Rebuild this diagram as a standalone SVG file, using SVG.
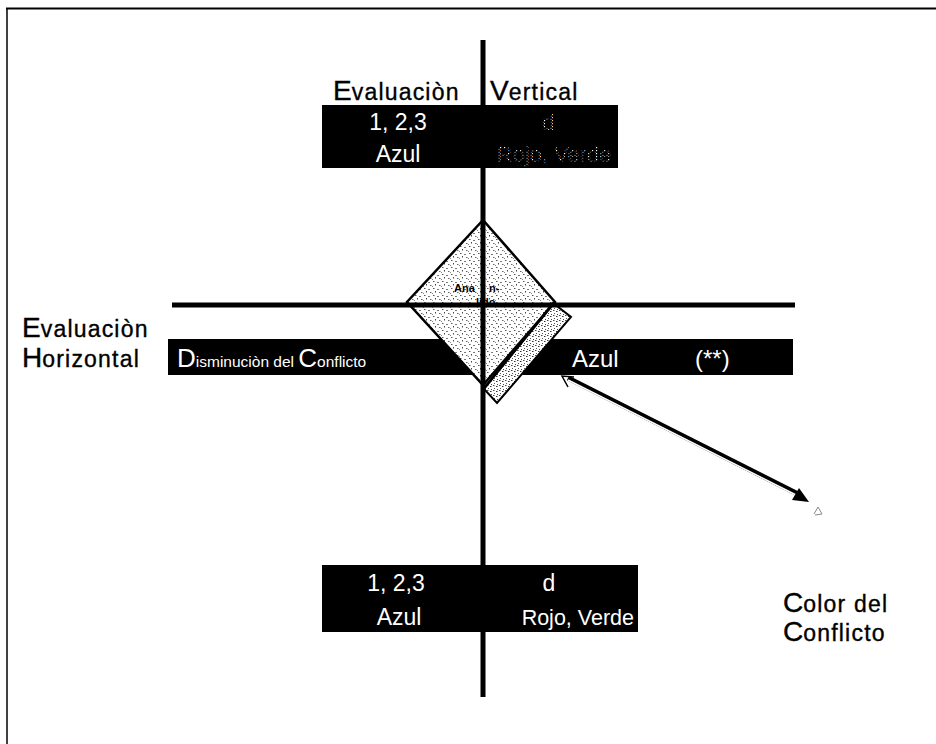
<svg xmlns="http://www.w3.org/2000/svg" width="936" height="744" viewBox="0 0 936 744">
<defs>
<pattern id="stip" width="9" height="7" patternUnits="userSpaceOnUse">
<rect width="9" height="7" fill="#fff"/>
<rect x="1" y="1" width="1.5" height="1" fill="#555"/>
<rect x="5" y="2" width="2" height="1" fill="#777"/>
<rect x="3" y="4" width="1" height="1.5" fill="#444"/>
<rect x="7" y="5" width="1.5" height="1" fill="#666"/>
<rect x="0" y="6" width="1" height="1" fill="#888"/>
</pattern>
<pattern id="stip2" width="6" height="5" patternUnits="userSpaceOnUse">
<rect width="6" height="5" fill="#fff"/>
<rect x="1" y="0" width="1.5" height="1" fill="#444"/>
<rect x="4" y="1" width="1.5" height="1" fill="#333"/>
<rect x="2" y="3" width="1" height="1" fill="#555"/>
<rect x="5" y="4" width="1" height="1" fill="#444"/>
</pattern>
<pattern id="speck" width="4" height="3" patternUnits="userSpaceOnUse">
<rect x="0" y="0" width="1.2" height="1.2" fill="#fff"/>
<rect x="2.5" y="1.8" width="1" height="1" fill="#ddd"/>
</pattern>
<style>
.t{font-family:"Liberation Sans",Arial,sans-serif;fill:#000;stroke:#000;stroke-width:0.35}
.w{font-family:"Liberation Sans",Arial,sans-serif;fill:#fff}
.big{font-size:28px}
.lab{font-size:23px;letter-spacing:1.2px}
.box{fill:#000}
.axis{stroke:#000;stroke-width:5;fill:none}
</style>
</defs>
<rect width="936" height="744" fill="#fff"/>
<g id="border" stroke="#000" fill="none">
<line x1="6" y1="8.5" x2="936" y2="8.5" stroke-width="2"/>
<line x1="7" y1="8" x2="7" y2="744" stroke-width="1.5"/>
</g>

<g id="horizontal-bar">
<rect class="box" x="168" y="339" width="625" height="36"/>
<text class="w" x="177" y="367"><tspan font-size="26">D</tspan><tspan font-size="15.5">isminuciòn del </tspan><tspan font-size="26">C</tspan><tspan font-size="15.5">onflicto</tspan></text>
<text class="w" x="572" y="367" font-size="24">Azul</text>
<text class="w" x="695" y="367" font-size="24">(**)</text>
</g>

<g id="diamond">
<polygon points="483,220 555,302 483,385 407,302" fill="url(#stip)" stroke="#000" stroke-width="2.5"/>
<polygon points="553,303 571,317 497,403 484,389" fill="url(#stip2)" stroke="#000" stroke-width="2"/>
<line x1="555" y1="302" x2="484" y2="388" stroke="#000" stroke-width="2.5"/>
<text class="t" x="454" y="292" font-size="11" font-weight="bold" style="stroke-width:0">Ana</text>
<text class="t" x="489" y="292" font-size="11" font-weight="bold" style="stroke-width:0">n-</text>
<text class="t" x="476" y="306" font-size="11" font-weight="bold" style="stroke-width:0">lido</text>
</g>

<g id="vertical-top">
<text class="t" x="333" y="100"><tspan class="big">E</tspan><tspan class="lab">valuaciòn</tspan></text>
<text class="t" x="490" y="100"><tspan class="big">V</tspan><tspan class="lab">ertical</tspan></text>
<rect class="box" x="322" y="105" width="296" height="63"/>
<text class="w" x="398" y="130" font-size="23" text-anchor="middle">1, 2,3</text>
<text class="w" x="398" y="162" font-size="23" text-anchor="middle">Azul</text>
<text x="548" y="130" font-size="22" text-anchor="middle" font-family="Liberation Sans, Arial, sans-serif" fill="url(#speck)">d</text>
<text x="554" y="162" font-size="22" text-anchor="middle" font-family="Liberation Sans, Arial, sans-serif" fill="url(#speck)">Rojo, Verde</text>
</g>

<g id="vertical-bottom">
<rect class="box" x="322" y="565" width="316" height="67"/>
<text class="w" x="396" y="591" font-size="23" text-anchor="middle">1, 2,3</text>
<text class="w" x="399" y="625" font-size="23" text-anchor="middle">Azul</text>
<text class="w" x="549" y="591" font-size="23" text-anchor="middle">d</text>
<text class="w" x="634" y="625" font-size="21.5" text-anchor="end">Rojo, Verde</text>
</g>

<g id="horizontal-label">
<text class="t" x="22" y="337"><tspan class="big">E</tspan><tspan class="lab">valuaciòn</tspan></text>
<text class="t" x="22" y="367"><tspan class="big">H</tspan><tspan class="lab">orizontal</tspan></text>
</g>

<g id="color-label">
<text class="t" x="783" y="612"><tspan class="big">C</tspan><tspan class="lab">olor del</tspan></text>
<text class="t" x="783" y="641"><tspan class="big">C</tspan><tspan class="lab">onflicto</tspan></text>
</g>

<g id="connectors">
<line class="axis" x1="483" y1="40" x2="483" y2="697" stroke-width="5.5"/>
<line class="axis" x1="172" y1="305" x2="795" y2="305"/>
<line x1="568" y1="378" x2="798" y2="494" stroke="#000" stroke-width="5"/>
<line x1="568" y1="380" x2="798" y2="496" stroke="#fff" stroke-width="1.6"/>
<polygon points="809,502 792,500 799,488" fill="#000"/>
<polyline points="574,377 562,376 568,387" fill="none" stroke="#000" stroke-width="1.5"/>
<polyline points="814,514 818,507 822,514 815,515" fill="none" stroke="#888" stroke-width="1"/>
</g>
</svg>
